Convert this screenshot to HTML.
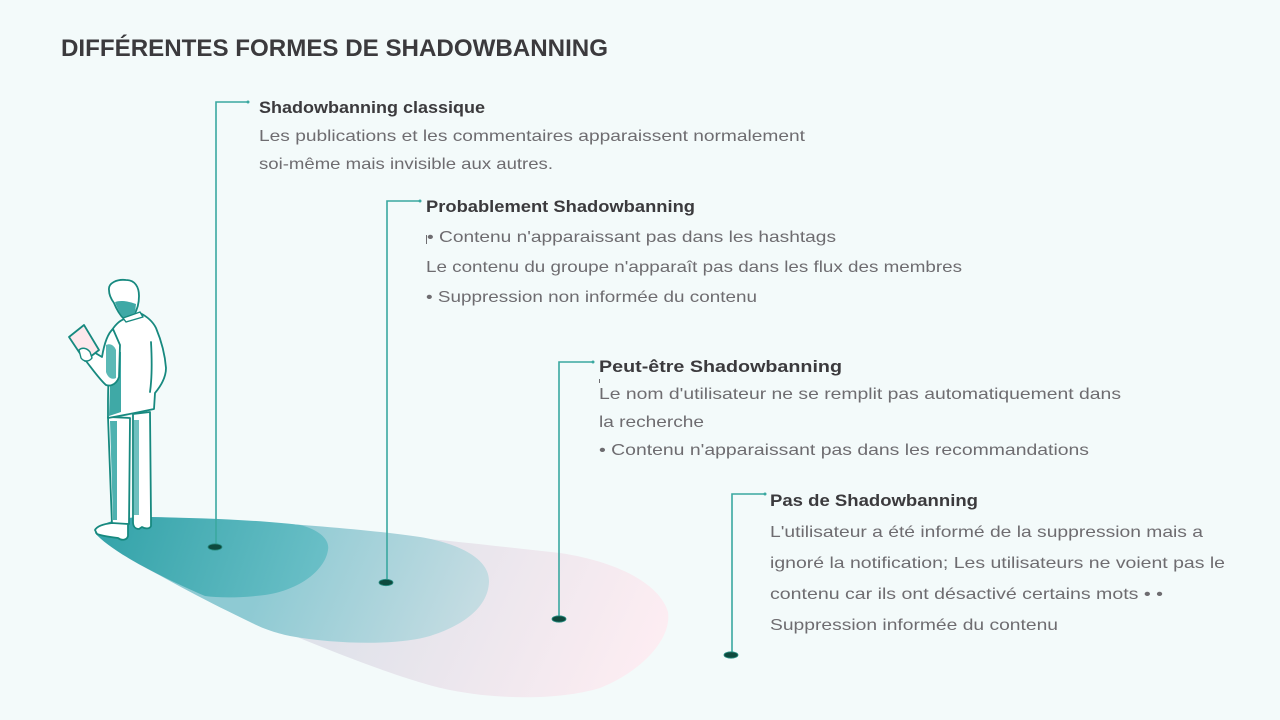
<!DOCTYPE html>
<html><head><meta charset="utf-8"><style>
html,body{margin:0;padding:0;background:#f3fafa;}
svg{display:block;}
.t{font-family:"Liberation Sans",sans-serif;}
.h{font-weight:bold;font-size:17px;fill:#3b3a3d;}
.b{font-size:16px;fill:#6e6c70;}
</style></head><body>
<svg width="1280" height="720" viewBox="0 0 1280 720" xmlns="http://www.w3.org/2000/svg">
<defs>
<linearGradient id="gO" gradientUnits="userSpaceOnUse" x1="360" y1="560" x2="640" y2="690">
<stop offset="0" stop-color="#dfe2ea"/><stop offset="1" stop-color="#fdedf2"/></linearGradient>
<linearGradient id="gM" gradientUnits="userSpaceOnUse" x1="280" y1="540" x2="490" y2="630">
<stop offset="0" stop-color="#8ecad3"/><stop offset="1" stop-color="#cadee4"/></linearGradient>
<linearGradient id="gD" gradientUnits="userSpaceOnUse" x1="110" y1="520" x2="330" y2="595">
<stop offset="0" stop-color="#35a4aa"/><stop offset="1" stop-color="#6ec1c9"/></linearGradient>
</defs>
<rect width="1280" height="720" fill="#f3fafa"/>

<!-- shadow -->
<path d="M95,533 C100,522 120,517 150,517 C250,520 400,535 560,553 C620,562 660,585 668,612 C672,640 640,672 600,688 C560,700 500,700 450,690 C400,680 300,640 200,595 C150,572 110,550 95,533 Z" fill="url(#gO)"/>
<path d="M95,533 C100,522 120,517 150,517 C250,520 360,528 420,537 C462,544 490,560 489,582 C488,608 462,626 430,636 C400,645 340,645 290,636 C272,632 262,628 250,622 C200,598 130,562 95,533 Z" fill="url(#gM)"/>
<path d="M95,533 C100,522 120,517 150,517 C200,518 260,520 300,525 C320,530 330,540 328,550 C325,570 300,590 265,595 C240,598 220,598 205,596 C150,572 110,550 95,533 Z" fill="url(#gD)"/>

<!-- title -->
<text class="t" x="61" y="56" font-size="24" font-weight="bold" fill="#3b3a3d" textLength="547" lengthAdjust="spacingAndGlyphs">DIFFÉRENTES FORMES DE SHADOWBANNING</text>

<!-- connectors -->
<g stroke="#3aa8a0" stroke-width="1.6" fill="none">
<polyline points="248,102 216,102 216,546"/>
<polyline points="420,201 387,201 387,582"/>
<polyline points="593,362 559,362 559,619"/>
<polyline points="765,494 732,494 732,655"/>
</g>
<g fill="#3aa8a0">
<circle cx="248" cy="102" r="1.5"/><circle cx="420" cy="201" r="1.5"/>
<circle cx="593" cy="362" r="1.5"/><circle cx="765" cy="494" r="1.5"/>
</g>
<g fill="#0e4a3e" stroke="#2a8f84" stroke-width="0.8">
<ellipse cx="215" cy="547" rx="7" ry="3.2"/>
<ellipse cx="386" cy="582.5" rx="7" ry="3.2"/>
<ellipse cx="559" cy="619" rx="7" ry="3.2"/>
<ellipse cx="731" cy="655" rx="7" ry="3.2"/>
</g>

<!-- texts -->
<text class="t h" x="259" y="113" textLength="226" lengthAdjust="spacingAndGlyphs">Shadowbanning classique</text>
<text class="t b" x="259" y="141" textLength="546" lengthAdjust="spacingAndGlyphs">Les publications et les commentaires apparaissent normalement</text>
<text class="t b" x="259" y="169" textLength="294" lengthAdjust="spacingAndGlyphs">soi-même mais invisible aux autres.</text>

<text class="t h" x="426" y="212" textLength="269" lengthAdjust="spacingAndGlyphs">Probablement Shadowbanning</text>
<line x1="426.5" y1="235" x2="426.5" y2="244" stroke="#6e6c70" stroke-width="1"/>
<text class="t b" x="427" y="242" textLength="409" lengthAdjust="spacingAndGlyphs">• Contenu n'apparaissant pas dans les hashtags</text>
<text class="t b" x="426" y="272" textLength="536" lengthAdjust="spacingAndGlyphs">Le contenu du groupe n'apparaît pas dans les flux des membres</text>
<text class="t b" x="426" y="302" textLength="331" lengthAdjust="spacingAndGlyphs">• Suppression non informée du contenu</text>

<text class="t h" x="599" y="372" textLength="243" lengthAdjust="spacingAndGlyphs">Peut-être Shadowbanning</text>
<line x1="599.5" y1="379" x2="599.5" y2="383" stroke="#6e6c70" stroke-width="1"/>
<text class="t b" x="599" y="399" textLength="522" lengthAdjust="spacingAndGlyphs">Le nom d'utilisateur ne se remplit pas automatiquement dans</text>
<text class="t b" x="599" y="427" textLength="105" lengthAdjust="spacingAndGlyphs">la recherche</text>
<text class="t b" x="599" y="455" textLength="490" lengthAdjust="spacingAndGlyphs">• Contenu n'apparaissant pas dans les recommandations</text>

<text class="t h" x="770" y="506" textLength="208" lengthAdjust="spacingAndGlyphs">Pas de Shadowbanning</text>
<text class="t b" x="770" y="537" textLength="433" lengthAdjust="spacingAndGlyphs">L'utilisateur a été informé de la suppression mais a</text>
<text class="t b" x="770" y="568" textLength="455" lengthAdjust="spacingAndGlyphs">ignoré la notification; Les utilisateurs ne voient pas le</text>
<text class="t b" x="770" y="599" textLength="393" lengthAdjust="spacingAndGlyphs">contenu car ils ont désactivé certains mots • •</text>
<text class="t b" x="770" y="630" textLength="288" lengthAdjust="spacingAndGlyphs">Suppression informée du contenu</text>

<!-- figure -->
<g stroke="#17897f" stroke-width="1.8" stroke-linejoin="round" stroke-linecap="round">
<!-- back leg -->
<path d="M133,414 L150,412 L151,518 L151,526 C150,529 145,529 142,527 L139,529 C135,529 133,526 133,522 Z" fill="#ffffff"/>
<path d="M134,420 L139,420 L139,515 L134,515 Z" fill="#6fc0bf" stroke="none"/>
<!-- front leg -->
<path d="M108,417 L130,418 L129,524 L112,525 Z" fill="#ffffff"/>
<path d="M110,421 L117,421 L117,520 L113,520 Z" fill="#4fb2b0" stroke="none"/>
<!-- front shoe -->
<path d="M95,530 C97,526 104,524 112,523 L128,524 L128,536 C127,540 122,541 118,538 C110,537 102,536 97,534 Z" fill="#ffffff"/>
<!-- jacket + right arm -->
<path d="M112,330 C116,324 120,320 125,319 L140,313 C148,317 153,322 156,328 C161,340 165,355 166,368 C166,378 160,387 155,393 L154,409 C140,412 125,415 108,418 L108,400 C108,380 110,360 112,345 Z" fill="#ffffff"/>
<path d="M111,355 C114,352 118,350 121,352 L121,412 L109,416 Z" fill="#3fa9a6" stroke="none"/>
<path d="M151,342 C152,360 152,378 150,392" fill="none"/>
<!-- head -->
<path d="M109,290 C108,283 117,279 126,280 C135,280 139,287 139,296 C139,304 137,310 134,315 L124,319 C120,315 116,308 114,303 C111,299 109,295 109,290 Z" fill="#ffffff"/>
<path d="M115,302 C120,300 128,301 136,304 L135,313 L124,318 C120,314 117,308 115,302 Z" fill="#3fa9a6" stroke="none"/>
<path d="M123,318 L140,312 L143,317 L126,322 Z" fill="#ffffff" stroke-width="1.4"/>
<!-- left arm -->
<path d="M113,329 C107,334 104,345 102,357 L92,351 L84,355 L86,361 C93,370 100,380 106,385 C112,387 117,383 119,377 L120,345 Z" fill="#ffffff"/>
<path d="M106,345 C110,343 114,345 116,350 L116,378 C112,380 108,378 106,372 Z" fill="#5cb9b6" stroke="none"/>
<!-- tablet -->
<path d="M69,337 L84,325 L99,350 L85,361 Z" fill="#fde8ec"/>
<!-- hand -->
<path d="M79,350 C82,347 87,348 90,352 L92,358 C89,362 84,362 81,358 Z" fill="#ffffff" stroke-width="1.4"/>
</g>
</svg>
</body></html>
